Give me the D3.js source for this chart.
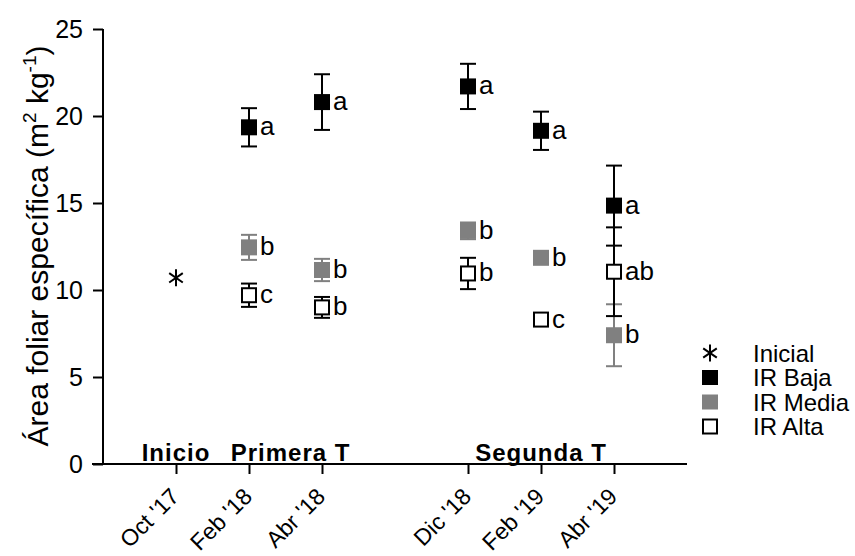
<!DOCTYPE html>
<html><head><meta charset="utf-8">
<script src="https://cdn.jsdelivr.net/npm/d3@7"></script>
<style>
body{margin:0;background:#fff}
svg{display:block}
text{font-family:"Liberation Sans",Arial,sans-serif;fill:#000}
</style>
</head><body>
<svg id="c" width="855" height="556"></svg>
<script>
// ---- data ----
const dates = ["Oct '17","Feb '18","Abr '18","Dic '18","Feb '19","Abr '19"];
const datePos = [0,1,2,4,5,6];
const yTicks = [0,5,10,15,20,25];
const periods = ["Inicio","Primera T","Segunda T"];
const periodPos = [0,1.57,5];
const inicialDates = ["Oct '17"];
const inicialValues = [10.7];
const trtDates = ["Feb '18","Abr '18","Dic '18","Feb '19","Abr '19"];
const bajaMean = [19.35,20.8,21.7,19.15,14.85];
const bajaErr  = [1.1,1.6,1.3,1.1,2.3];
const bajaLetters = ["a","a","a","a","a"];
const mediaMean = [12.45,11.15,13.4,11.85,7.4];
const mediaErr  = [0.72,0.64,0.48,0.3,1.78];
const mediaLetters = ["b","b","b","b","b"];
const altaMean = [9.7,9.0,10.95,8.3,11.05];
const altaErr  = [0.67,0.6,0.9,0.25,2.55];
const altaLetters = ["c","b","b","c","ab"];
const legendNames = ["Inicial","IR Baja","IR Media","IR Alta"];

// ---- setup ----
const svg = d3.select("#c");
const x = d3.scaleLinear().domain([-1,7]).range([103,687]);
const y = d3.scaleLinear().domain([0,25]).range([464,29]);
const xd = d => x(datePos[dates.indexOf(d)]);
const GRAY = "#808080";
const SQ = 16;

// y axis
const yAxis = svg.append("g").attr("transform","translate(103,0)")
  .call(d3.axisLeft(y).tickValues(yTicks).tickSize(10).tickPadding(10));
yAxis.select(".domain").attr("stroke","#000").attr("stroke-width",2).attr("d","M0,"+y(25)+"V"+y(0));
yAxis.selectAll(".tick line").attr("stroke","#000").attr("stroke-width",2);
yAxis.selectAll(".tick text").attr("font-size",25).attr("font-family","Liberation Sans, Arial, sans-serif");

// x axis
const xAxis = svg.append("g").attr("transform","translate(0,464)")
  .call(d3.axisBottom(x).tickValues(datePos).tickSize(10).tickFormat((d,i)=>dates[i]));
xAxis.select(".domain").attr("stroke","#000").attr("stroke-width",2).attr("d","M92,0H687");
xAxis.selectAll(".tick line").attr("stroke","#000").attr("stroke-width",2);
xAxis.selectAll(".tick text")
  .attr("font-size",23).attr("font-family","Liberation Sans, Arial, sans-serif")
  .attr("text-anchor","end").attr("dy",null).attr("y",null)
  .attr("transform","translate(4,34) rotate(-45)");

// period labels
svg.append("g").selectAll("text").data(periods).join("text")
  .attr("x",(d,i)=>x(periodPos[i])).attr("y",461)
  .attr("text-anchor","middle").attr("font-size",24).attr("font-weight","bold")
  .attr("letter-spacing","1px")
  .text(d=>d);

// y title
const title = svg.append("text")
  .attr("transform","translate(48,246) rotate(-90)")
  .attr("text-anchor","middle").attr("font-size",30);
title.append("tspan").text("Área foliar específica (m");
title.append("tspan").attr("font-size",19).attr("dy",-12).text("2");
title.append("tspan").attr("dy",12).text(" kg");
title.append("tspan").attr("font-size",19).attr("dy",-12).text("-1");
title.append("tspan").attr("dy",12).text(")");

// asterisk symbol
const aster = {draw(ctx,size){const r=Math.sqrt(size)/2;ctx.moveTo(0,-r);ctx.lineTo(0,r);
  const a=r*0.8,b=r*0.55;ctx.moveTo(-a,-b);ctx.lineTo(a,b);ctx.moveTo(-a,b);ctx.lineTo(a,-b);}};
const asterPath = d3.symbol().type(aster).size(289);

// series
const series = [
  {mean:mediaMean,err:mediaErr,letters:mediaLetters,fill:GRAY,stroke:GRAY,open:false},
  {mean:altaMean,err:altaErr,letters:altaLetters,fill:"#fff",stroke:"#000",open:true},
  {mean:bajaMean,err:bajaErr,letters:bajaLetters,fill:"#000",stroke:"#000",open:false}
];
const plot = svg.append("g");
series.forEach(s=>{
  const data = trtDates.map((d,i)=>({d,m:s.mean[i],e:s.err[i],l:s.letters[i]}));
  const g = plot.append("g");
  g.selectAll("line.v").data(data).join("line").attr("class","v")
    .attr("x1",d=>xd(d.d)).attr("x2",d=>xd(d.d))
    .attr("y1",d=>y(d.m+d.e)).attr("y2",d=>y(d.m-d.e))
    .attr("stroke",s.stroke).attr("stroke-width",2);
  ["+","-"].forEach(sg=>{
    g.selectAll("line.c"+(sg=="+"?"t":"b")).data(data).join("line").attr("class","c"+(sg=="+"?"t":"b"))
      .attr("x1",d=>xd(d.d)-SQ/2).attr("x2",d=>xd(d.d)+SQ/2)
      .attr("y1",d=>y(sg=="+"?d.m+d.e:d.m-d.e)).attr("y2",d=>y(sg=="+"?d.m+d.e:d.m-d.e))
      .attr("stroke",s.stroke).attr("stroke-width",2);
  });
});
series.forEach(s=>{
  const data = trtDates.map((d,i)=>({d,m:s.mean[i],l:s.letters[i]}));
  const g = plot.append("g");
  const sz = s.open?SQ-2:SQ;
  g.selectAll("rect").data(data).join("rect")
    .attr("x",d=>xd(d.d)-sz/2).attr("y",d=>y(d.m)-sz/2)
    .attr("width",sz).attr("height",sz)
    .attr("fill",s.fill).attr("stroke",s.open?"#000":"none").attr("stroke-width",s.open?2:0);
  g.selectAll("text").data(data).join("text")
    .attr("x",d=>xd(d.d)+11).attr("y",d=>y(d.m)+8)
    .attr("font-size",26).text(d=>d.l);
});
// inicial
plot.selectAll("path.ast").data(inicialDates.map((d,i)=>({d,v:inicialValues[i]}))).join("path")
  .attr("class","ast").attr("d",asterPath)
  .attr("transform",d=>`translate(${xd(d.d)},${y(d.v)})`)
  .attr("stroke","#000").attr("stroke-width",2).attr("fill","none");

// legend
const leg = svg.append("g").attr("transform","translate(710,353)");
const li = leg.selectAll("g").data(legendNames).join("g")
  .attr("transform",(d,i)=>`translate(0,${i*24.5})`);
li.append("text").attr("x",43).attr("y",8.6).attr("font-size",24).text(d=>d);
li.filter((d,i)=>i==0).append("path").attr("d",asterPath).attr("stroke","#000").attr("stroke-width",2).attr("fill","none");
li.filter((d,i)=>i>0).append("rect")
  .attr("x",(d,i)=>i==2?-7:-8).attr("y",(d,i)=>i==2?-7:-7.5).attr("width",(d,i)=>i==2?14:16).attr("height",(d,i)=>i==2?14:15)
  .attr("fill",(d,i)=>["#000",GRAY,"#fff"][i]).attr("stroke",(d,i)=>i==2?"#000":"none").attr("stroke-width",2);
</script>
</body></html>
